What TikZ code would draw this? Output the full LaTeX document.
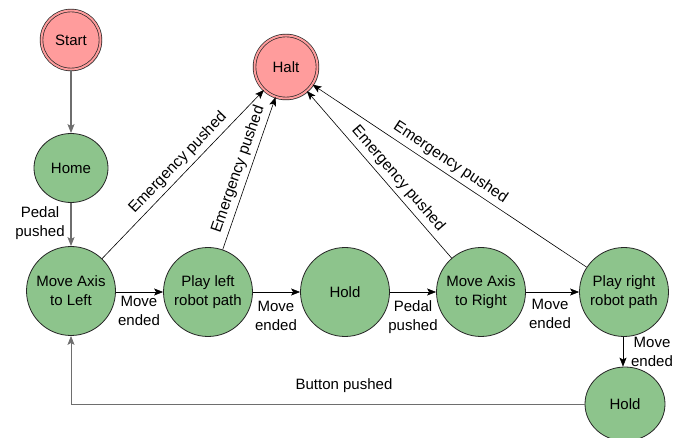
\documentclass[tikz,border=0pt]{standalone}
\usepackage{fontspec}
\setmainfont{Liberation Sans}
\usetikzlibrary{arrows.meta,shadows,shapes.geometric}
\definecolor{gfill}{HTML}{8DC48C}
\definecolor{rfill}{HTML}{FF9C9C}
\definecolor{edgegray}{HTML}{6E6E6E}
\begin{document}
\begin{tikzpicture}[x=1pt,y=-1pt,
  font=\fontsize{15}{19}\selectfont,
  st/.style={circle, draw=black!85, fill=gfill, line width=0.8pt, minimum size=89pt, inner sep=0pt, align=center},
  term/.style={circle, draw=black!85, fill=rfill, double=rfill, double distance=2pt, line width=0.7pt, inner sep=0pt,
     drop shadow={shadow xshift=1.5pt, shadow yshift=-1.5pt, fill=black!35, opacity=0.6}},
  arr/.style={-{Stealth[length=9pt,width=7pt,inset=2pt]}, line width=0.6pt, draw=black},
  garr/.style={-{Stealth[length=9pt,width=7pt,inset=2pt]}, line width=1.3pt, draw=edgegray},
  lbl/.style={align=center, inner sep=1pt},
  elbl/.style={sloped, above, inner sep=4pt, pos=0.5, font=\fontsize{15.5}{19}\selectfont}
]
\useasboundingbox[fill=white] (0,0) rectangle (688,438);

\node[term, minimum size=59pt] (start) at (71,40) {Start};
\node[term, minimum size=63pt] (halt) at (286,67) {Halt};
\node[st, ellipse, minimum width=74pt, minimum height=69pt] (home) at (71,168) {Home};
\node[st] (mal) at (71,291) {Move Axis\\to Left};
\node[st] (pl) at (208,292) {Play left\\robot path};
\node[st] (hold) at (345,292) {Hold};
\node[st] (mar) at (481,292) {Move Axis\\to Right};
\node[st] (pr) at (624,292) {Play right\\robot path};
\node[st, ellipse, minimum width=80pt, minimum height=74pt] (hold2) at (625,404) {Hold};

\draw[garr] (start) -- (home);
\draw[garr] (home) -- (mal);
\node[lbl] (lpedal1) at (40,223) {Pedal\\pushed};

\draw[arr] (mal.east |- 0,292) -- (pl.west |- 0,292);
\draw[arr] (pl.east |- 0,292) -- (hold.west |- 0,292);
\draw[arr] (hold.east |- 0,292) -- (mar.west |- 0,292);
\draw[arr] (mar.east |- 0,292) -- (pr.west |- 0,292);
\draw[arr] (pr.south -| 623,0) -- (hold2.north -| 623,0);

\node[lbl] (lme1) at (139,311) {Move\\ended};
\node[lbl] (lme2) at (276,316) {Move\\ended};
\node[lbl] (lpp) at (413,317) {Pedal\\pushed};
\node[lbl] (lme3) at (550,314) {Move\\ended};
\node[lbl] (lme4) at (652,352) {Move\\ended};

\draw[arr] (mal) -- node[elbl, pos=0.52] (e1) {Emergency pushed} (halt);
\draw[arr] (pl) -- node[elbl] (e2) {Emergency pushed} (halt);
\draw[arr] (mar) -- node[elbl, pos=0.43] (e3) {Emergency pushed} (halt);
\draw[arr] (pr) -- node[elbl, pos=0.52] (e4) {Emergency pushed} (halt);

\draw[garr, line width=0.8pt] (hold2.west) -| (mal.south);
\node[lbl] (lbp) at (344,386) {Button pushed};
\end{tikzpicture}
\end{document}
